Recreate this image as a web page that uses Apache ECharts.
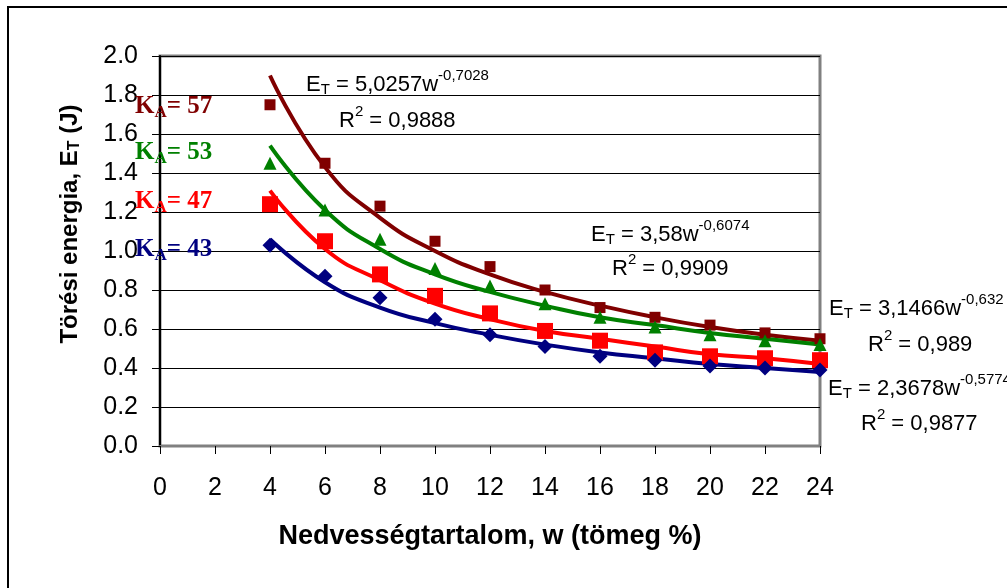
<!DOCTYPE html>
<html>
<head>
<meta charset="utf-8">
<title>Törési energia</title>
<script src="https://cdn.jsdelivr.net/npm/echarts@6/dist/echarts.min.js"></script>
<style>
  html, body { margin: 0; padding: 0; background: #fff; }
  #main { width: 1007px; height: 588px; }
</style>
</head>
<body>
<div id="main"></div>
<script>
// moisture content, w (mass %)
var wValues = [4, 6, 8, 10, 12, 14, 16, 18, 20, 22, 24];

var ka57 = [1.75, 1.45, 1.23, 1.05, 0.92, 0.80, 0.71, 0.66, 0.62, 0.58, 0.55];
var ka53 = [1.45, 1.21, 1.06, 0.91, 0.82, 0.73, 0.66, 0.61, 0.57, 0.54, 0.52];
var ka47 = [1.24, 1.05, 0.88, 0.77, 0.68, 0.59, 0.54, 0.48, 0.46, 0.45, 0.44];
var ka43 = [1.03, 0.87, 0.76, 0.65, 0.57, 0.51, 0.46, 0.44, 0.41, 0.40, 0.39];

// trend curves
var trend57 = [1.90, 1.43, 1.17, 1.00, 0.88, 0.79, 0.72, 0.66, 0.61, 0.57, 0.54];
var trend53 = [1.54, 1.21, 1.01, 0.88, 0.79, 0.72, 0.66, 0.62, 0.58, 0.55, 0.52];
var trend47 = [1.31, 1.01, 0.85, 0.73, 0.65, 0.59, 0.55, 0.51, 0.47, 0.45, 0.42];
var trend43 = [1.06, 0.84, 0.71, 0.63, 0.57, 0.52, 0.48, 0.45, 0.42, 0.40, 0.38];

var xTicks = [0, 24, 2];
var yTicks = [0, 2, 0.2];

var C57 = '#800000', C53 = '#008000', C47 = '#ff0000', C43 = '#000080';

function pairs(arr) {
  return wValues.map(function (w, i) { return [w, arr[i]]; });
}

var myChart = echarts.init(document.getElementById('main'));

var eqRich = {
  m: { fontSize: 22, fontFamily: 'Liberation Sans', fill: '#000', verticalAlign: 'middle' },
  s: { fontSize: 15, fontFamily: 'Liberation Sans', fill: '#000', verticalAlign: 'middle', padding: [10, 0, 0, 0] },
  p: { fontSize: 15, fontFamily: 'Liberation Sans', fill: '#000', verticalAlign: 'middle', padding: [0, 0, 18, 0] }
};

function eqText(x, y, coef, expo) {
  return {
    type: 'text', x: x, y: y, z: 50,
    style: {
      text: '{m|E}{s|T}{m| = ' + coef + 'w}{p|' + expo + '}',
      rich: eqRich, align: 'left', verticalAlign: 'middle'
    }
  };
}
function r2Text(x, y, val) {
  return {
    type: 'text', x: x, y: y, z: 50,
    style: {
      text: '{m|R}{p|2}{m| = ' + val + '}',
      rich: eqRich, align: 'left', verticalAlign: 'middle'
    }
  };
}
function kaText(y, num, color) {
  var base = { fontSize: 25, fontFamily: 'Liberation Serif', fontWeight: 'bold', fill: color, verticalAlign: 'middle' };
  return {
    type: 'text', x: 135, y: y, z: 50,
    style: {
      text: '{k|K}{a|A}{k|= ' + num + '}',
      rich: {
        k: base,
        a: { fontSize: 17, fontFamily: 'Liberation Serif', fontWeight: 'bold', fill: color, verticalAlign: 'middle', padding: [12, 0, 0, 0] }
      },
      align: 'left', verticalAlign: 'middle'
    }
  };
}

function trend(name, arr, color) {
  return {
    name: name, type: 'line', smooth: true, showSymbol: false, z: 3,
    lineStyle: { color: color, width: 4 }, data: pairs(arr)
  };
}
function points(name, arr, symbol, size, color) {
  return {
    name: name, type: 'scatter', symbol: symbol, symbolSize: size, z: 4,
    itemStyle: { color: color, opacity: 1 }, data: pairs(arr)
  };
}

var option = {
  animation: false,
  backgroundColor: '#fff',
  grid: {
    left: 160, top: 56, width: 660, height: 390,
    show: true, borderColor: '#808080', borderWidth: 3, backgroundColor: '#fff'
  },
  xAxis: {
    type: 'value', min: xTicks[0], max: xTicks[1], interval: xTicks[2],
    axisLine: { lineStyle: { color: '#808080', width: 2 } },
    axisTick: { show: true, length: 8, lineStyle: { color: '#000', width: 1 } },
    axisLabel: { margin: 30, fontSize: 25, color: '#000', fontFamily: 'Liberation Sans' },
    splitLine: { show: false }
  },
  yAxis: {
    type: 'value', min: yTicks[0], max: yTicks[1], interval: yTicks[2],
    axisLine: { show: true, lineStyle: { color: '#000', width: 2 } },
    axisTick: { show: true, length: 8, lineStyle: { color: '#000', width: 1 } },
    axisLabel: {
      margin: 22, fontSize: 25, color: '#000', fontFamily: 'Liberation Sans',
      formatter: function (v) { return v.toFixed(1); }
    },
    splitLine: { show: true, lineStyle: { color: '#000', width: 1 } }
  },
  series: [
    trend('t57', trend57, C57),
    trend('t53', trend53, C53),
    trend('t47', trend47, C47),
    trend('t43', trend43, C43),
    points('KA57', ka57, 'rect', 11, C57),
    points('KA53', ka53, 'triangle', 13, C53),
    points('KA47', ka47, 'rect', 16, C47),
    points('KA43', ka43, 'diamond', 15, C43)
  ],
  graphic: [
    { type: 'rect', shape: { x: 8, y: 7, width: 1010, height: 600 }, style: { fill: null, stroke: '#000', lineWidth: 2 }, z: -10, silent: true },
    {
      type: 'text', x: 70, y: 224, rotation: Math.PI / 2, z: 50,
      style: {
        text: '{b|Törési energia, E}{s|T}{b| (J)}',
        rich: {
          b: { fontSize: 24, fontWeight: 'bold', fontFamily: 'Liberation Sans', fill: '#000', verticalAlign: 'middle' },
          s: { fontSize: 16, fontWeight: 'bold', fontFamily: 'Liberation Sans', fill: '#000', verticalAlign: 'middle', padding: [10, 0, 0, 0] }
        },
        align: 'center', verticalAlign: 'middle'
      }
    },
    {
      type: 'text', x: 490, y: 537, z: 50,
      style: {
        text: 'Nedvességtartalom, w (tömeg %)',
        fontSize: 27, fontWeight: 'bold', fontFamily: 'Liberation Sans', fill: '#000',
        align: 'center', verticalAlign: 'middle'
      }
    },
    kaText(107, '57', C57),
    kaText(153, '53', C53),
    kaText(202, '47', C47),
    kaText(250, '43', C43),
    eqText(306, 85, '5,0257', '-0,7028'),
    r2Text(339, 121, '0,9888'),
    eqText(591, 235, '3,58', '-0,6074'),
    r2Text(612, 269, '0,9909'),
    eqText(829, 309, '3,1466', '-0,632'),
    r2Text(868, 345, '0,989'),
    eqText(828, 389, '2,3678', '-0,5774'),
    r2Text(861, 424, '0,9877')
  ]
};

myChart.setOption(option);
</script>
</body>
</html>
